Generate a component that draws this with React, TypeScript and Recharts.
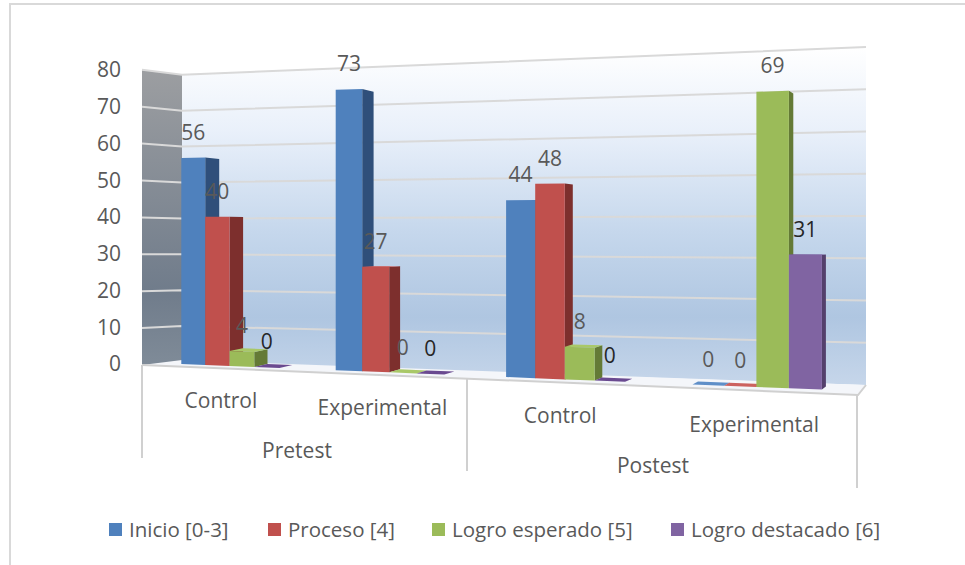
import React from "react";
import { BarChart, Bar, XAxis, YAxis, Legend, LabelList, Customized } from "recharts";

const categories = ["Control", "Experimental", "Control", "Experimental"];
const periods = ["Pretest", "Pretest", "Postest", "Postest"];
const inicio = [56, 73, 44, 0];
const proceso = [40, 27, 48, 0];
const logroEsperado = [4, 0, 8, 69];
const logroDestacado = [0, 0, 0, 31];
const yTicks = [0, 10, 20, 30, 40, 50, 60, 70, 80];

const rows = categories.map((cat, i) => ({
  cat,
  period: periods[i],
  inicio: inicio[i],
  proceso: proceso[i],
  logroEsperado: logroEsperado[i],
  logroDestacado: logroDestacado[i],
}));

const W = 965;
const H = 565;
const PLOT_LEFT = 142;
const PLOT_RIGHT = 858;
const PLOT_TOP = 70;
const PLOT_BOTTOM = 364;
const BAND = (PLOT_RIGHT - PLOT_LEFT) / 4;
const UNIT = (PLOT_BOTTOM - PLOT_TOP) / 80;
const FONT = "'Open Sans', sans-serif";
const TEXT = "#595959";

// Perspective of the 3-D view: chart-space x -> screen x, and baseline/height scale at a screen x
const projX = (px: number) => {
  const t = (px - PLOT_LEFT) / BAND - 0.185;
  return 182 + 146.5 * t + 8 * t * t;
};
const baseY = (X: number) => 364 + 0.04 * (X - 181);
const heightScale = (X: number) => (3.68 + (X - 181) * 0.00104) / UNIT;
const depthX = (X: number) => Math.max(4, 14 - 0.0165 * (X - 205));
const pts = (p: number[][]) => p.map((q) => q.map((n) => n.toFixed(1)).join(",")).join(" ");

const Bar3D = (colors: { front: string; side: string; top: string }) => (props: any) => {
  const { x, width, height } = props;
  const h = Math.max(0, height || 0);
  const X0 = projX(x);
  const X1 = projX(x + width);
  const yB0 = baseY(X0);
  const yB1 = baseY(X1);
  const yT0 = yB0 - h * heightScale(X0);
  const yT1 = yB1 - h * heightScale(X1);
  const d = depthX(X1);
  const rise = 3 - h * 0.022;
  return (
    <g>
      <polygon points={pts([[X1, yT1], [X1 + d, yT1 - rise], [X1 + d, yB1 - 3], [X1, yB1]])} fill={colors.side} />
      {rise > 0 && (
        <polygon points={pts([[X0, yT0], [X1, yT1], [X1 + d, yT1 - rise], [X0 + d, yT0 - rise]])} fill={colors.top} />
      )}
      {h > 0 && <polygon points={pts([[X0, yT0], [X1, yT1], [X1, yB1], [X0, yB0]])} fill={colors.front} />}
    </g>
  );
};

const ValueLabel = (color: string) => (props: any) => {
  const { x, width, height, value } = props;
  const h = Math.max(0, height || 0);
  const X = projX(x + width / 2);
  const yTop = baseY(X) - h * heightScale(X);
  return (
    <text x={X} y={yTop - 26} textAnchor="middle" dominantBaseline="central" fontFamily={FONT} fontSize={21} fill={color}>
      {value}
    </text>
  );
};

const CategoryTick = (props: any) => {
  const P = projX(props.x);
  const X = P - 8 + (P - 229) * 0.0125;
  return (
    <text x={X} y={400 + (X - 221) * 0.045} textAnchor="middle" dominantBaseline="central" fontFamily={FONT} fontSize={21} fill={TEXT}>
      {props.payload.value}
    </text>
  );
};

const PeriodTick = (props: any) => {
  const P = projX(props.x);
  const X = P - 9.7 + (P - 306.7) * 0.014;
  return (
    <text x={X} y={450 + (X - 297) * 0.042} textAnchor="middle" dominantBaseline="central" fontFamily={FONT} fontSize={21} fill={TEXT}>
      {props.payload.value}
    </text>
  );
};

const Walls = () => (
  <g>
    <defs>
      <linearGradient id="backWall" x1="0" y1="0" x2="0" y2="1">
        <stop offset="0" stopColor="#ffffff" />
        <stop offset="0.25" stopColor="#e9f0fa" />
        <stop offset="0.55" stopColor="#c5d7ec" />
        <stop offset="0.8" stopColor="#afc6e1" />
        <stop offset="1" stopColor="#c6d6ea" />
      </linearGradient>
      <linearGradient id="sideWall" x1="0" y1="0" x2="0" y2="1">
        <stop offset="0" stopColor="#9c9ea1" />
        <stop offset="0.75" stopColor="#707c8b" />
        <stop offset="1" stopColor="#7f8b98" />
      </linearGradient>
    </defs>
    <polygon points="182,75 866,47 866,385 182,362" fill="url(#backWall)" />
    <polygon points="142,70 182,75 182,362 142,365" fill="url(#sideWall)" />
    <polygon points="142,365 182,360 866,385 858,395" fill="#f4f6fa" />
    {yTicks.filter((v) => v > 0).map((v) => (
      <polyline
        key={v}
        points={pts([[142, 365 - 3.69 * v], [182, 362 - 3.59 * v], [866, 385 - 4.225 * v]])}
        fill="none"
        stroke="#d9d9d9"
        strokeWidth={2}
      />
    ))}
    <polyline points="142,365 858,395 866,385" fill="none" stroke="#d0d0d0" strokeWidth={2} />
    <line x1={142} y1={365} x2={142} y2={458} stroke="#d0d0d0" strokeWidth={2} />
    <line x1={467} y1={379} x2={467} y2={471} stroke="#d0d0d0" strokeWidth={2} />
    <line x1={857} y1={395} x2={857} y2={488} stroke="#d0d0d0" strokeWidth={2} />
    <polyline points="10,565 10,4 965,4" fill="none" stroke="#d9d9d9" strokeWidth={2} />
  </g>
);

const LegendRow = (props: any) => (
  <div style={{ position: "relative", height: 30, fontFamily: FONT, fontSize: 20.5, color: TEXT }}>
    {(props.payload || []).map((e: any, i: number) => (
      <div key={i} style={{ display: "flex", alignItems: "center", position: "absolute", top: 0, left: [109, 268, 432, 671][i] }}>
        <span style={{ width: 13, height: 13, background: e.color, display: "inline-block", marginRight: 7 }} />
        <span style={{ whiteSpace: "nowrap" }}>{e.value}</span>
      </div>
    ))}
  </div>
);

const series = [
  { key: "inicio", name: "Inicio [0-3]", front: "#4F81BD", side: "#2F4F7A", top: "#5F8FC8", label: "#595959" },
  { key: "proceso", name: "Proceso [4]", front: "#C0504D", side: "#7D2F2D", top: "#CC625F", label: "#595959" },
  { key: "logroEsperado", name: "Logro esperado [5]", front: "#9BBB59", side: "#647A36", top: "#A9C868", label: "#595959" },
  { key: "logroDestacado", name: "Logro destacado [6]", front: "#8064A2", side: "#54406C", top: "#6A4A90", label: "#262626" },
];

export default function App() {
  return (
    <div style={{ position: "absolute", left: 0, top: 0, width: W, height: H, background: "#fff" }}>
      <BarChart
        width={W}
        height={H}
        data={rows}
        margin={{ top: PLOT_TOP, right: W - PLOT_RIGHT, bottom: 91, left: 0 }}
        barGap={0}
        barCategoryGap="18%"
      >
        <Customized component={Walls} />
        <XAxis dataKey="cat" interval={0} height={40} axisLine={false} tickLine={false} tick={CategoryTick} />
        <XAxis xAxisId="period" dataKey="period" allowDuplicatedCategory={false} interval={0} height={40} axisLine={false} tickLine={false} tick={PeriodTick} />
        <YAxis
          width={PLOT_LEFT}
          domain={[0, 80]}
          ticks={yTicks}
          axisLine={false}
          tickLine={false}
          tickSize={0}
          tickMargin={21}
          tick={{ fontFamily: FONT, fontSize: 21, fill: TEXT }}
        />
        <Legend
          height={30}
          verticalAlign="bottom"
          content={LegendRow}
          itemSorter={null}
          wrapperStyle={{ position: "absolute", left: 0, top: 515, width: W, height: 30 }}
        />
        {series.map((s) => (
          <Bar
            key={s.key}
            dataKey={s.key}
            name={s.name}
            fill={s.front}
            isAnimationActive={false}
            shape={Bar3D(s)}
          >
            <LabelList dataKey={s.key} content={ValueLabel(s.label)} />
          </Bar>
        ))}
      </BarChart>
    </div>
  );
}
